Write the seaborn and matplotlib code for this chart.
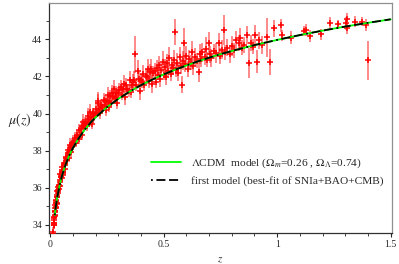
'''
Hubble diagram: SNIa distance modulus vs redshift, with LCDM and first model curves
'''
import matplotlib
matplotlib.use('Agg')
import matplotlib.pyplot as plt
import numpy as np
import pandas as pd
import seaborn as sns
from matplotlib.ticker import MultipleLocator, FuncFormatter

#%%
# supernova data (z, mu, error)
z_low = [0.012,0.014,0.015,0.016,0.017,0.018,0.019,0.020,0.021,0.022,0.023,0.024,0.025,0.026,0.027,0.028,
         0.029,0.030,0.032,0.033,0.034,0.036,0.038,0.040,0.042,0.044,0.046,0.048,0.050,0.052,0.054,0.056,
         0.058,0.060,0.063,0.066,0.069,0.072,0.075,0.078,0.081,0.084,0.087,0.090,0.093,0.096,0.099]
mu_low = [33.50,33.61,34.11,34.08,33.98,34.44,34.71,34.47,34.75,34.53,34.91,35.17,34.91,35.28,35.20,35.11,
          35.62,35.52,35.48,35.83,36.05,35.70,36.09,36.11,36.39,36.09,36.67,36.55,36.51,36.83,37.13,36.84,
          36.80,37.22,37.20,36.99,37.61,37.54,37.53,38.02,37.58,37.94,37.93,38.18,37.93,38.20,38.48]
err_low = [0.20,0.25,0.15,0.30,0.18,0.22,0.28,0.16,0.35,0.20,0.24,0.18,0.30,0.15,0.22,0.26,
           0.20,0.32,0.17,0.25,0.21,0.28,0.16,0.30,0.19,0.24,0.35,0.18,0.22,0.27,0.20,0.31,
           0.17,0.25,0.23,0.29,0.18,0.33,0.21,0.26,0.19,0.30,0.24,0.22,0.28,0.20,0.34]

z_low2 = [0.0155,0.0165,0.0185,0.0205,0.0225,0.0245,0.0265,0.0285,0.031,0.035,0.037,0.039,0.041,
          0.045,0.049,0.053,0.057,0.062,0.065,0.068,0.074,0.080,0.086,0.092,0.098]
mu_low2 = [34.01,34.35,34.25,34.75,35.08,34.97,35.36,35.18,35.84,35.86,36.16,35.95,36.31,
           36.74,36.60,36.94,36.71,37.35,37.31,37.64,37.50,37.85,38.30,38.07,38.40]
err_low2 = [0.22,0.18,0.26,0.20,0.30,0.16,0.24,0.28,0.19,0.33,0.21,0.25,0.17,
            0.29,0.23,0.27,0.20,0.31,0.18,0.26,0.22,0.30,0.36,0.24,0.28]

z_mid = [0.105,0.11,0.115,0.12,0.125,0.13,0.135,0.14,0.145,0.15,0.155,0.16,0.165,0.17,0.175,0.18,
         0.185,0.19,0.195,0.20,0.205,0.21,0.215,0.22,0.225,0.23,0.235,0.24,0.245,0.25,0.255,0.26,
         0.265,0.27,0.275,0.28,0.285,0.29,0.295,0.30,0.31,0.315,0.32,0.33,0.335,0.34,0.35,0.355,
         0.36,0.37,0.374,0.38,0.39,0.395,0.40,0.41,0.415,0.42,0.43,0.435,0.44,0.45,0.455]
mu_mid = [38.45,38.70,38.40,38.81,39.10,38.85,39.14,38.83,39.56,39.30,39.53,39.30,39.73,39.55,40.07,39.79,
          39.45,40.02,39.83,40.24,40.05,40.66,40.26,40.01,40.47,40.27,40.73,40.48,40.19,40.69,40.98,40.63,
          40.93,40.58,40.87,41.32,40.81,41.11,40.55,41.09,41.42,41.01,41.30,40.88,41.52,41.31,41.83,41.17,
          41.55,41.82,43.20,41.54,41.86,41.20,41.78,42.14,41.52,42.00,42.41,41.74,42.22,41.58,42.16]
err_mid = [0.25,0.30,0.22,0.28,0.35,0.20,0.30,0.25,0.40,0.22,0.30,0.25,0.35,0.28,0.45,0.25,
           0.30,0.30,0.22,0.38,0.25,0.50,0.30,0.28,0.32,0.25,0.40,0.30,0.35,0.28,0.45,0.30,
           0.35,0.25,0.30,0.50,0.28,0.35,0.30,0.32,0.40,0.30,0.35,0.40,0.38,0.30,0.45,0.35,
           0.32,0.45,1.00,0.35,0.40,0.45,0.35,0.50,0.30,0.40,0.55,0.35,0.45,0.50,0.38]

z_mid2 = [0.108,0.118,0.128,0.138,0.148,0.158,0.168,0.178,0.188,0.198,0.212,0.228,
          0.242,0.258,0.272,0.288,0.302,0.325,0.345,0.365,0.385,0.405,0.425,0.445]
mu_mid2 = [38.41,38.82,38.63,39.31,39.21,39.50,39.87,39.56,39.99,39.95,40.55,40.35,
           40.65,40.36,41.10,40.89,41.26,41.59,41.19,41.69,42.28,41.71,41.98,42.40]
err_mid2 = [0.22,0.28,0.25,0.35,0.20,0.30,0.42,0.25,0.30,0.26,0.48,0.30,
            0.36,0.28,0.45,0.32,0.38,0.50,0.30,0.42,0.60,0.35,0.40,0.55]

z_far = [0.46,0.465,0.47,0.475,0.48,0.485,0.49,0.495,0.50,0.505,0.51,0.515,0.52,0.525,0.53,0.535,
         0.54,0.545,0.551,0.555,0.56,0.565,0.57,0.575,0.58,0.585,0.59,0.595,0.60,0.605,0.61,0.62,
         0.625,0.63,0.64,0.645,0.654,0.66,0.665,0.67,0.68,0.685,0.69,0.699,0.705,0.71,0.72,0.73,
         0.742,0.75,0.755,0.765,0.77,0.78,0.79,0.80,0.81,0.82,0.83,0.835,0.845,0.855,0.868,0.875,
         0.885,0.895,0.904,0.912,0.92,0.935,0.953,0.97,0.985]
mu_far = [42.30,41.70,42.45,42.10,42.60,41.85,42.35,42.80,42.08,42.50,41.95,42.70,42.30,43.00,42.15,42.60,
          42.45,42.90,44.40,42.35,42.75,42.20,43.05,42.55,41.55,42.85,43.80,42.65,43.10,42.40,42.95,42.75,
          43.30,42.55,43.05,42.85,42.25,43.20,42.95,43.30,43.05,43.50,42.90,43.78,43.20,43.00,43.35,43.25,
          43.78,43.10,43.45,44.50,43.30,43.55,43.20,43.65,43.40,43.95,43.80,44.05,43.55,43.70,44.23,42.71,
          43.80,43.60,44.23,42.80,43.95,43.70,44.10,42.80,44.60]
err_far = [0.40,0.35,0.45,0.30,0.50,0.40,0.35,0.55,0.30,0.45,0.40,0.50,0.35,0.60,0.40,0.45,
           0.35,0.55,0.70,0.40,0.50,0.45,0.55,0.40,0.45,0.50,0.80,0.40,0.55,0.45,0.50,0.40,
           0.60,0.45,0.50,0.40,0.55,0.55,0.45,0.50,0.45,0.60,0.40,0.60,0.45,0.50,0.40,0.55,
           0.55,0.45,0.50,0.80,0.40,0.45,0.50,0.55,0.40,0.50,0.45,0.55,0.40,0.45,0.50,0.80,
           0.45,0.40,0.55,0.60,0.45,0.50,1.05,0.70,0.45]

z_hst = [1.015,1.022,1.059,1.12,1.127,1.144,1.191,1.232,1.268,1.303,1.306,1.309,1.341,1.372,1.393,1.40]
mu_hst = [44.77,44.23,44.09,44.45,44.50,44.18,44.27,44.90,44.81,44.86,44.59,45.08,44.95,44.95,44.77,42.88]
err_hst = [0.35,0.30,0.35,0.25,0.30,0.35,0.30,0.28,0.25,0.35,0.30,0.35,0.30,0.25,0.30,1.05]

# model curves
curve_z = [0.02,0.025,0.03,0.04,0.05,0.06,0.07,0.08,0.09,0.1,0.12,0.15,0.18,0.2,0.25,0.3,0.35,0.4,
           0.45,0.5,0.55,0.6,0.65,0.7,0.75,0.8,0.85,0.9,0.95,1.0,1.1,1.2,1.3,1.4,1.5]
lcdm_mu = [34.52,35.01,35.42,36.04,36.56,36.97,37.32,37.62,37.89,38.14,38.56,39.10,39.54,39.79,40.34,40.79,
           41.18,41.53,41.83,42.11,42.36,42.59,42.81,43.01,43.20,43.37,43.53,43.69,43.83,43.97,44.23,44.47,
           44.69,44.89,45.08]
first_mu = [34.52,35.01,35.42,36.04,36.56,36.97,37.32,37.62,37.89,38.14,38.56,39.10,39.54,39.79,40.34,40.79,
            41.18,41.53,41.83,42.11,42.36,42.59,42.81,43.01,43.20,43.37,43.53,43.69,43.83,43.97,44.23,44.47,
            44.69,44.89,45.08]

lcdm_label = r'$\Lambda$CDM  model ($\Omega_m$=0.26 , $\Omega_\Lambda$=0.74)'
first_label = 'first model (best-fit of SNIa+BAO+CMB)'

#%%
sn = pd.DataFrame({'z': z_low + z_low2 + z_mid + z_mid2 + z_far + z_hst,
                   'mu': mu_low + mu_low2 + mu_mid + mu_mid2 + mu_far + mu_hst,
                   'err': err_low + err_low2 + err_mid + err_mid2 + err_far + err_hst})

sns.set_style('ticks')
plt.rcParams['font.family'] = ['Liberation Serif', 'DejaVu Serif']
plt.rcParams['mathtext.fontset'] = 'stix'

fig = plt.figure(figsize=(3.99, 2.64), dpi=100)
ax = fig.add_axes([0.123, 0.117, 0.859, 0.871])

ax.errorbar(sn['z'], sn['mu'], yerr=sn['err'], fmt='none', ecolor='#ff1a1a',
            elinewidth=1.1, alpha=0.65, zorder=2)
sns.scatterplot(data=sn, x='z', y='mu', marker='+', color='red', s=14, linewidth=1.1,
                ax=ax, zorder=3, legend=False)

sns.lineplot(x=curve_z, y=lcdm_mu, color='#00ff00', lw=1.3, ax=ax, label=lcdm_label, zorder=4)
sns.lineplot(x=curve_z, y=first_mu, color='black', lw=1.3, ax=ax, label=first_label,
             linestyle=(0, (1, 2, 5, 2, 5, 2)), zorder=5)

handles, labels = ax.get_legend_handles_labels()
ax.legend(handles, labels, loc='lower right', bbox_to_anchor=(1.0, 0.17), frameon=False,
          fontsize=8.2, handlelength=2.6, handletextpad=0.9, labelspacing=0.5, borderaxespad=0.3)

ax.set_xlim(-0.005, 1.505)
ax.set_ylim(33.55, 45.95)
ax.xaxis.set_major_locator(MultipleLocator(0.5))
ax.xaxis.set_minor_locator(MultipleLocator(0.1))
ax.yaxis.set_major_locator(MultipleLocator(2))
ax.yaxis.set_minor_locator(MultipleLocator(1))
ax.xaxis.set_major_formatter(FuncFormatter(lambda v, p: '%g' % v))
ax.tick_params(which='major', direction='out', length=3, width=0.8, labelsize=7, pad=2)
ax.tick_params(which='minor', direction='out', length=2, width=0.6)

for s in ['top', 'right']:
    ax.spines[s].set_color('#909090')
for s in ['left', 'bottom']:
    ax.spines[s].set_color('#303030')
for s in ax.spines.values():
    s.set_linewidth(0.9)

ax.set_xlabel('$z$', fontsize=8)
ax.xaxis.set_label_coords(0.5, -0.10)
ax.set_ylabel(r'$\mu(z)$', fontsize=10, rotation=0, va='center')
ax.yaxis.set_label_coords(-0.085, 0.49)

plt.savefig('out.png', dpi=100)
